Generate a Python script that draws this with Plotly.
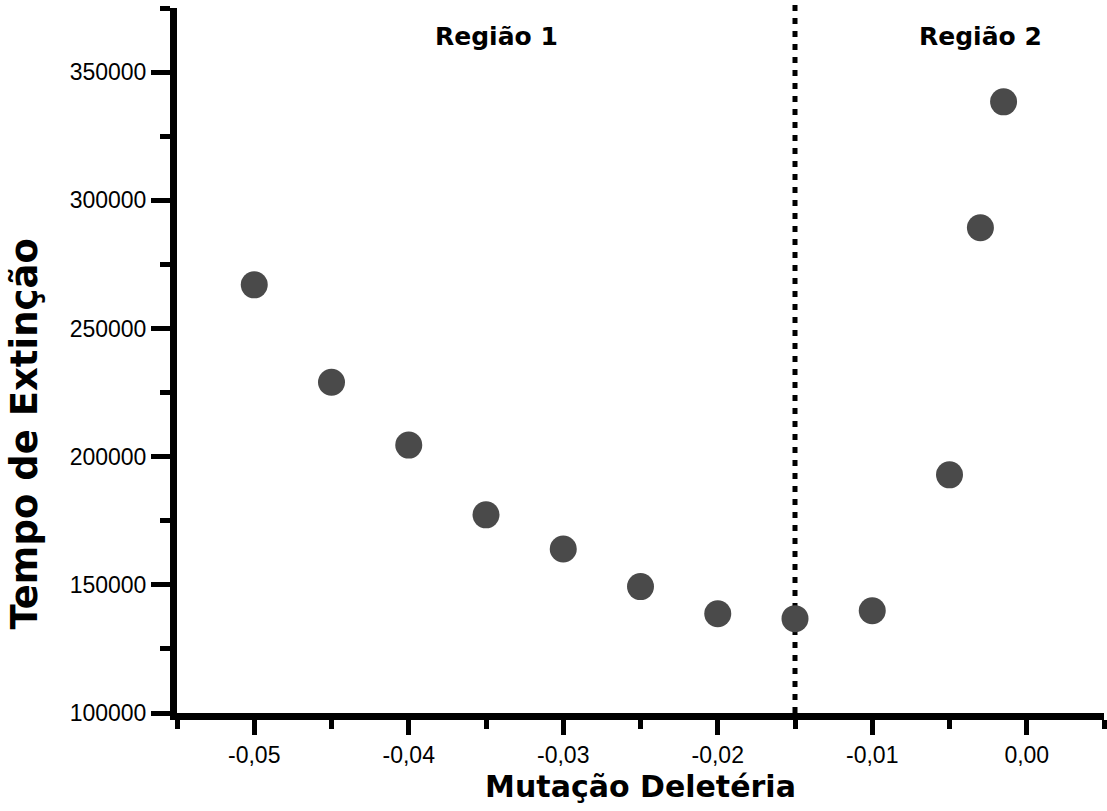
import plotly.graph_objects as go

# Deleterious mutation effect vs. mean extinction time
mutacao = [-0.05, -0.045, -0.04, -0.035, -0.03, -0.025, -0.02, -0.015,
           -0.01, -0.005, -0.003, -0.0015]
tempo = [267000, 229000, 204500, 177300, 164000, 149300, 138700, 136800,
         139900, 192900, 289300, 338400]

# Boundary between the two regimes
REGION_SPLIT = -0.015
region_labels = ["Região 1", "Região 2"]
region_label_x = [-0.0343, -0.003]
region_label_y = 364000

x_range = [-0.055, 0.005]
y_range = [100000, 375000]
x_ticks = [-0.05, -0.04, -0.03, -0.02, -0.01, 0.0]
y_ticks = [100000, 150000, 200000, 250000, 300000, 350000]
# Decimal comma and a plain hyphen for negatives
x_ticktext = [("%.2f" % v).replace(".", ",") for v in x_ticks]
y_ticktext = ["%d" % v for v in y_ticks]

x_title = "Mutação Deletéria"
y_title = "Tempo de Extinção"

tick_font = dict(family="Liberation Sans, Arial, sans-serif", size=23, color="black")
title_family = "DejaVu Sans, Verdana, sans-serif"

fig = go.Figure()

fig.add_trace(go.Scatter(
    x=mutacao, y=tempo, mode="markers",
    marker=dict(size=27, color="#4a4a4a", line=dict(width=0)),
    showlegend=False, cliponaxis=False,
))

# Vertical dotted divider
fig.add_shape(
    type="line", xref="x", yref="paper",
    x0=REGION_SPLIT, x1=REGION_SPLIT, y0=0, y1=1.012,
    line=dict(color="black", width=5, dash="6px,7px"),
    layer="below",
)

for label, lx in zip(region_labels, region_label_x):
    fig.add_annotation(
        x=lx, y=region_label_y, xref="x", yref="y", text="<b>%s</b>" % label,
        showarrow=False, xanchor="center", yanchor="middle",
        font=dict(family="DejaVu Sans, Arial Black, sans-serif", size=25, color="black"),
    )

# Vertical axis title, set a little below the plot's middle
fig.add_annotation(
    x=-0.165, y=0.395, xref="paper", yref="paper", text="<b>%s</b>" % y_title,
    textangle=-90, showarrow=False, xanchor="center", yanchor="middle",
    font=dict(family=title_family, size=37, color="black"),
)

axis_common = dict(
    showgrid=False, zeroline=False, showline=True, linecolor="black", linewidth=7,
    ticks="outside", tickcolor="black", tickwidth=5, tickfont=tick_font,
    mirror=False,
)

fig.update_xaxes(
    range=x_range, tickvals=x_ticks, ticktext=x_ticktext, ticklen=15,
    minor=dict(ticks="outside", dtick=0.005, tick0=-0.055, ticklen=9,
               tickwidth=5, tickcolor="black", showgrid=False),
    title=dict(text="<b>%s</b>" % x_title,
               font=dict(family=title_family, size=30, color="black"), standoff=12),
    **axis_common,
)
fig.update_yaxes(
    range=y_range, tickvals=y_ticks, ticktext=y_ticktext, ticklen=19,
    minor=dict(ticks="outside", dtick=25000, tick0=100000, ticklen=10,
               tickwidth=5, tickcolor="black", showgrid=False),
    **axis_common,
)

fig.update_layout(
    width=1107, height=811,
    margin=dict(l=177, r=3, t=8, b=98, autoexpand=False),
    paper_bgcolor="white", plot_bgcolor="white",
)

fig.write_html("out.html")
